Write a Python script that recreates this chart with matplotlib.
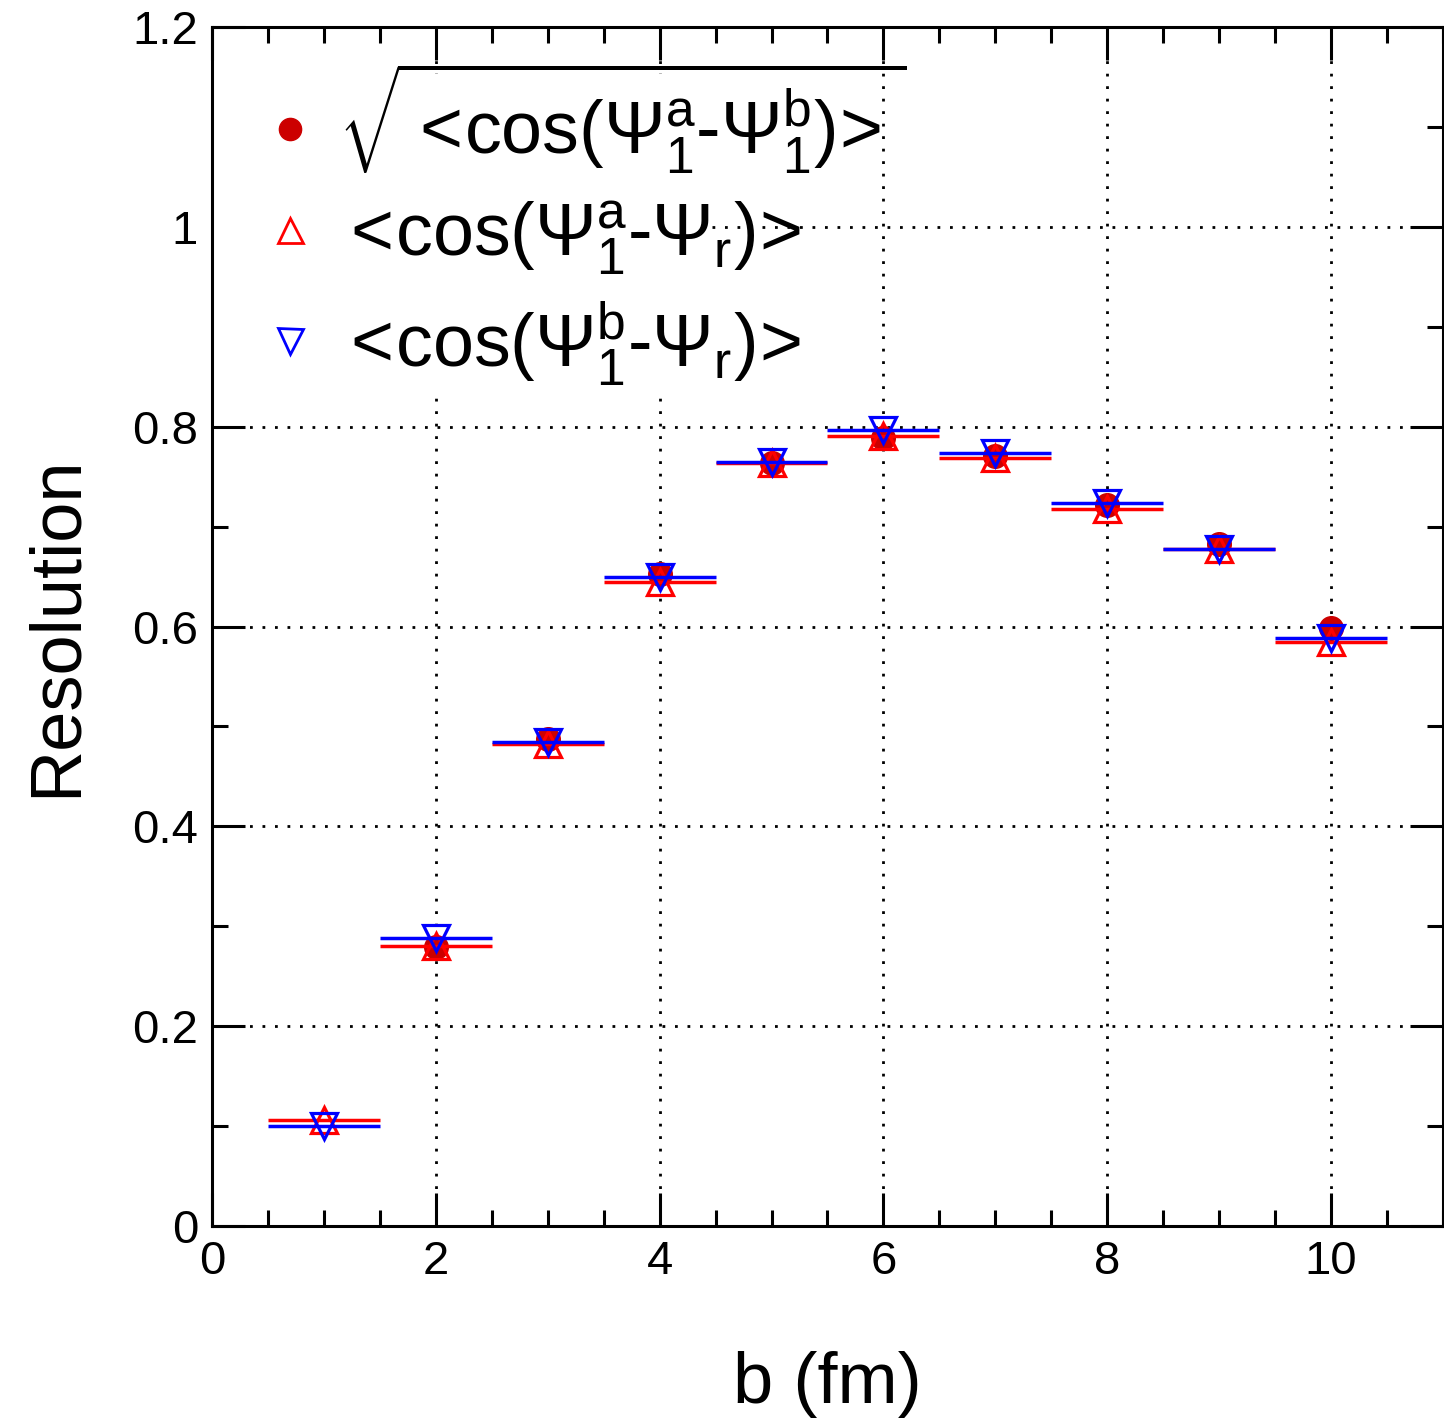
import matplotlib
matplotlib.use('Agg')
import matplotlib.pyplot as plt
from matplotlib.lines import Line2D
from matplotlib.patches import Rectangle
import numpy as np

plt.rcParams['font.family'] = ['Liberation Sans', 'DejaVu Sans']
plt.rcParams['mathtext.fontset'] = 'custom'
plt.rcParams['mathtext.rm'] = 'Liberation Sans'
plt.rcParams['mathtext.it'] = 'Liberation Sans'

# impact parameter bins
b = [1, 2, 3, 4, 5, 6, 7, 8, 9, 10]
b_err = [0.5] * 10

# sqrt(<cos(Psi1a - Psi1b)>) -- no point in first bin
b_sub = [2, 3, 4, 5, 6, 7, 8, 9, 10]
res_sub = [0.279, 0.487, 0.653, 0.764, 0.789, 0.771, 0.722, 0.683, 0.599]

# <cos(Psi1a - Psir)>
res_a = [0.106, 0.280, 0.482, 0.645, 0.764, 0.791, 0.769, 0.718, 0.678, 0.585]
# <cos(Psi1b - Psir)>
res_b = [0.100, 0.288, 0.484, 0.650, 0.765, 0.797, 0.774, 0.724, 0.678, 0.589]

lab_sub = r'$\sqrt{<\!\mathrm{cos}(\Psi^{a}_{1}\text{-}\Psi^{b}_{1})\!>}$'
lab_a = r'$<\!\mathrm{cos}(\Psi^{a}_{1}\text{-}\Psi_{r})\!>$'
lab_b = r'$<\!\mathrm{cos}(\Psi^{b}_{1}\text{-}\Psi_{r})\!>$'

fig = plt.figure(figsize=(14.44, 14.18), dpi=100)
ax = fig.add_axes([0.1468, 0.1354, 0.8525, 0.8455])

ax.plot(b_sub, res_sub, 'o', color='#cc0000', markersize=17, zorder=3)
ax.errorbar(b, res_a, xerr=b_err, fmt='^', color='#ff0000', mfc='none', mec='#ff0000',
            markersize=19, mew=2.3, elinewidth=2.5, capsize=0, zorder=4)
ax.errorbar(b, res_b, xerr=b_err, fmt='v', color='#0000ff', mfc='none', mec='#0000ff',
            markersize=19, mew=2.3, elinewidth=2.5, capsize=0, zorder=5)

ax.set_xlim(0, 11)
ax.set_ylim(0, 1.2)
ax.set_xticks([0, 2, 4, 6, 8, 10])
ax.set_xticks(np.arange(0, 11.01, 0.5), minor=True)
ax.set_yticks([0, 0.2, 0.4, 0.6, 0.8, 1.0, 1.2])
ax.set_yticks(np.arange(0, 1.21, 0.1), minor=True)
ax.set_yticklabels(['0', '0.2', '0.4', '0.6', '0.8', '1', '1.2'])

ax.tick_params(which='both', direction='in', top=True, right=True, labelsize=34,
               width=2.2, color='black')
ax.tick_params(which='major', length=24, pad=10)
ax.tick_params(which='minor', length=11.5)
for s in ax.spines.values():
    s.set_linewidth(2.2)

ax.grid(True, which='major', color='black', linestyle=(0, (1, 3.5)), linewidth=2)
ax.set_axisbelow(True)

ax.set_xlabel('b (fm)', fontsize=52, labelpad=48)
ax.set_ylabel('Resolution', fontsize=52, labelpad=30)

# white legend pad (covers the grid behind the legend box, like the original)
ax.add_patch(Rectangle((0, 0.833), 4.47, 0.32, facecolor='white', edgecolor='none', zorder=1))

handles = [
    Line2D([], [], ls='none', marker='o', color='#cc0000', markersize=16),
    Line2D([], [], ls='none', marker='^', mfc='none', mec='#ff0000', markersize=18, mew=2),
    Line2D([], [], ls='none', marker='v', mfc='none', mec='#0000ff', markersize=18, mew=2),
]
leg = ax.legend(handles, [lab_sub, lab_a, lab_b], loc='upper left',
                bbox_to_anchor=(-0.008, 1.015), fontsize=53, frameon=False,
                handletextpad=0.15, labelspacing=0.3, handlelength=1.0, borderpad=0.2)
leg.set_zorder(6)

fig.savefig('out.png', dpi=100)
